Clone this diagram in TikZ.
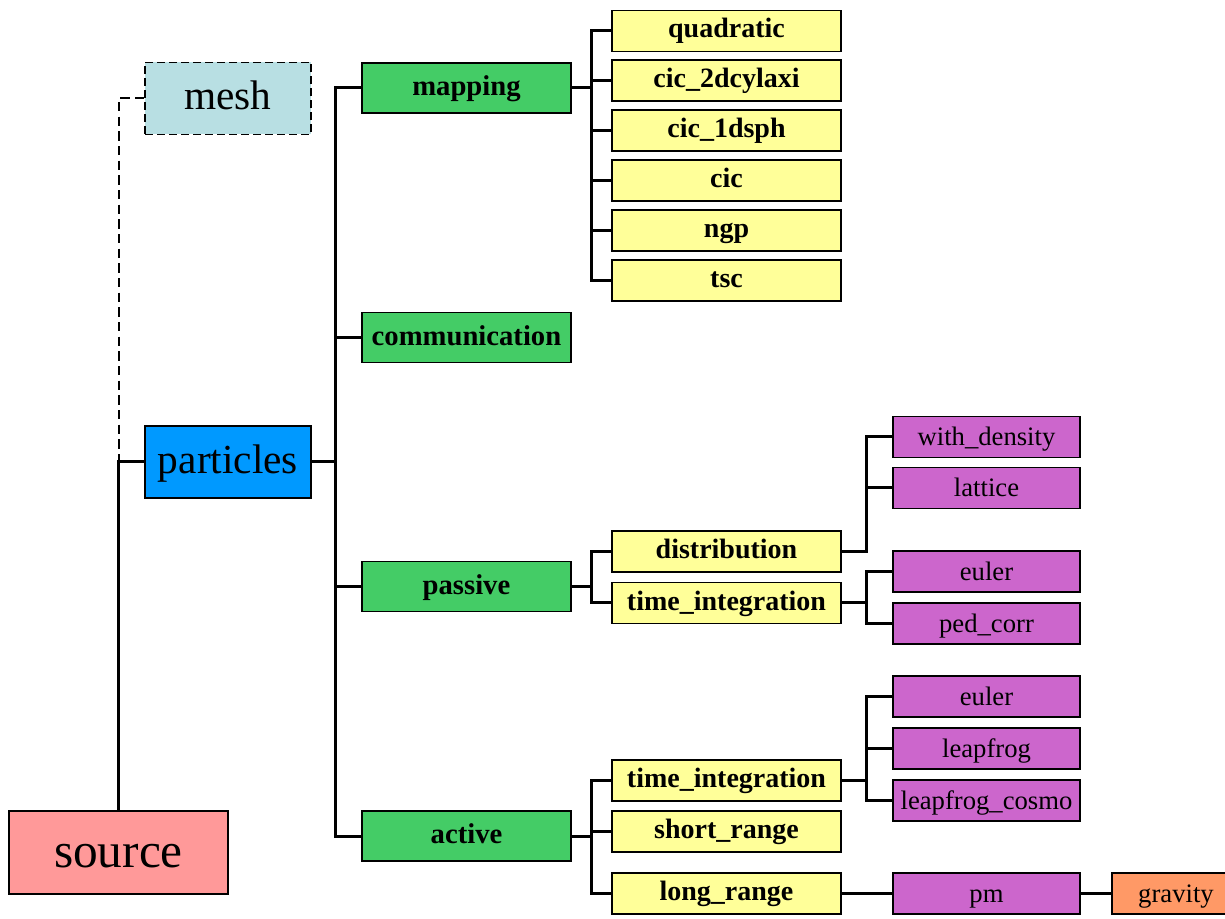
\documentclass[tikz,border=0pt]{standalone}
\usepackage{fontspec}
\setmainfont{Liberation Serif}
\definecolor{srcpink}{RGB}{255,153,153}
\definecolor{meshblue}{RGB}{184,223,227}
\definecolor{partblue}{RGB}{0,153,255}
\definecolor{modgreen}{RGB}{68,204,102}
\definecolor{subyellow}{RGB}{255,255,153}
\definecolor{leafpurple}{RGB}{204,102,204}
\definecolor{gravorange}{RGB}{255,153,102}
\begin{document}
\begin{tikzpicture}[x=0.75pt,y=-0.75pt,
  box/.style={draw=black,line width=1.1pt,inner sep=0pt,anchor=center},
  topbox/.style={box,minimum width=124.5pt,minimum height=54pt,font=\fontsize{31}{31}\selectfont,text height=23pt,text depth=6pt},
  modbox/.style={box,fill=modgreen,minimum width=156.75pt,minimum height=37.5pt,font=\fontsize{21.5}{21.5}\selectfont\bfseries,text height=15.5pt,text depth=4.2pt},
  subbox/.style={box,fill=subyellow,minimum width=171.75pt,minimum height=30.75pt,font=\fontsize{21}{21}\selectfont\bfseries,text height=14.9pt,text depth=4.4pt},
  leafbox/.style={box,fill=leafpurple,minimum width=140.25pt,minimum height=30.75pt,font=\fontsize{20}{20}\selectfont,text height=16pt,text depth=3pt},
  conn/.style={line width=2.25pt,line cap=rect},
  meshlink/.style={line width=1.5pt,dash pattern=on 7pt off 4pt}]
\clip (0,0) rectangle (1225,919);
\fill[white] (0,0) rectangle (1225,919);

% main nodes
\node[box,fill=srcpink,minimum width=164.25pt,minimum height=62.25pt,font=\fontsize{37}{37}\selectfont,text height=28pt,text depth=6pt] (source) at (118.5,852.5) {source};
\node[topbox,fill=meshblue,dashed,dash pattern=on 6pt off 3pt] (mesh) at (228,98.5) {mesh};
\node[topbox,fill=partblue] (particles) at (228,462) {particles};

% particle modules
\node[modbox] (mapping) at (466.5,88) {mapping};
\node[modbox] (communication) at (466.5,337.5) {communication};
\node[modbox] (passive) at (466.5,586.5) {passive};
\node[modbox] (active) at (466.5,836) {active};

% mapping schemes
\node[subbox] (quadratic) at (726.5,31) {quadratic};
\node[subbox] (cic2d) at (726.5,80.5) {cic\_2dcylaxi};
\node[subbox] (cic1d) at (726.5,130.5) {cic\_1dsph};
\node[subbox] (cic) at (726.5,180.5) {cic};
\node[subbox] (ngp) at (726.5,230.5) {ngp};
\node[subbox] (tsc) at (726.5,280.5) {tsc};

% passive parts
\node[subbox] (distribution) at (726.5,551.5) {distribution};
\node[subbox] (ptime) at (726.5,603) {time\_integration};
\node[leafbox] (withdensity) at (986.5,437) {with\_density};
\node[leafbox] (lattice) at (986.5,488) {lattice};
\node[leafbox] (peuler) at (986.5,571.5) {euler};
\node[leafbox] (pedcorr) at (986.5,623.5) {ped\_corr};

% active parts
\node[subbox] (atime) at (726.5,780.5) {time\_integration};
\node[subbox] (shortrange) at (726.5,831.5) {short\_range};
\node[subbox] (longrange) at (726.5,893.5) {long\_range};
\node[leafbox] (aeuler) at (986.5,696.5) {euler};
\node[leafbox] (leapfrog) at (986.5,748.5) {leapfrog};
\node[leafbox] (leapcosmo) at (986.5,800.5) {leapfrog\_cosmo};
\node[leafbox] (pm) at (986.5,893.5) {pm};
\node[leafbox,fill=gravorange,minimum width=96pt] (gravity) at (1176,893.5) {gravity};

% bus positions
\coordinate (busA) at (335,0);
\coordinate (busB) at (591,0);
\coordinate (busC) at (866,0);

% source -- particles, mesh (dashed)
\draw[meshlink] (mesh.west) -| (source.north |- particles.west);
\draw[conn] (source.north) |- (particles.west);

% particles -- modules
\draw[conn] (particles.east) -- (particles.east -| busA);
\draw[conn] (mapping.west) -| (busA |- active.west) -- (active.west);
\draw[conn] (communication.west) -- (communication.west -| busA);
\draw[conn] (passive.west) -- (passive.west -| busA);

% mapping -- schemes
\draw[conn] (mapping.east) -- (mapping.east -| busB);
\draw[conn] (quadratic.west) -| (busB |- tsc.west) -- (tsc.west);
\foreach \n in {cic2d,cic1d,cic,ngp}
  \draw[conn] (\n.west) -- (\n.west -| busB);

% passive -- parts
\draw[conn] (passive.east) -- (passive.east -| busB);
\draw[conn] (distribution.west) -| (busB |- ptime.west) -- (ptime.west);
\draw[conn] (distribution.east) -- (distribution.east -| busC);
\draw[conn] (withdensity.west) -| (busC |- distribution.east);
\draw[conn] (lattice.west) -- (lattice.west -| busC);
\draw[conn] (ptime.east) -- (ptime.east -| busC);
\draw[conn] (peuler.west) -| (busC |- pedcorr.west) -- (pedcorr.west);

% active -- parts
\draw[conn] (active.east) -- (active.east -| busB);
\draw[conn] (atime.west) -| (busB |- longrange.west) -- (longrange.west);
\draw[conn] (shortrange.west) -- (shortrange.west -| busB);
\draw[conn] (atime.east) -- (atime.east -| busC);
\draw[conn] (aeuler.west) -| (busC |- leapcosmo.west) -- (leapcosmo.west);
\draw[conn] (leapfrog.west) -- (leapfrog.west -| busC);
\draw[conn] (longrange.east) -- (pm.west);
\draw[conn] (pm.east) -- (gravity.west);
\end{tikzpicture}
\end{document}
